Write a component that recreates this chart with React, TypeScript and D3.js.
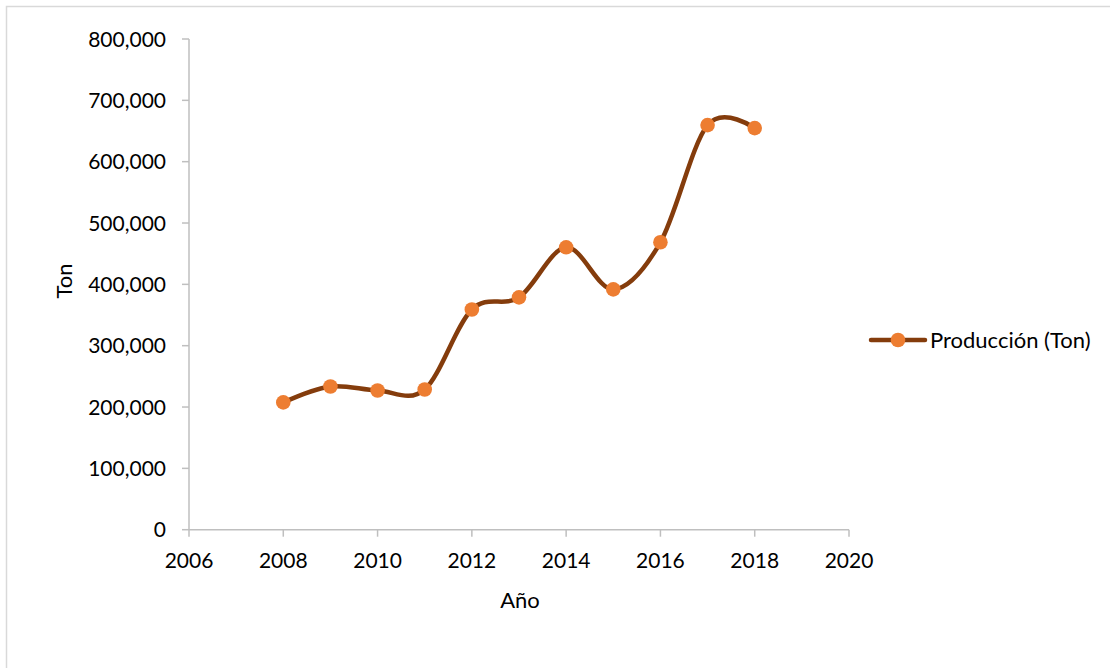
import React from "react";
import * as d3 from "d3";

// Data
const years = [2008, 2009, 2010, 2011, 2012, 2013, 2014, 2015, 2016, 2017, 2018];
const production = [207500, 233500, 227000, 228600, 359000, 378800, 460400, 391800, 468600, 659600, 654700];
const xTicks = [2006, 2008, 2010, 2012, 2014, 2016, 2018, 2020];
const yTicks = [0, 100000, 200000, 300000, 400000, 500000, 600000, 700000, 800000];
const seriesName = "Producción (Ton)";
const xTitle = "Año";
const yTitle = "Ton";

const W = 1110;
const H = 668;
const FONT = "Lato, 'Open Sans', sans-serif";
const LINE = "#843C0C";
const MARK = "#ED7D31";
const AXIS = "#BFBFBF";

export default function App() {
  const x = d3.scaleLinear().domain([2006, 2020]).range([189, 849]);
  const y = d3.scaleLinear().domain([0, 800000]).range([529.7, 39]);
  const fmt = d3.format(",");
  const pts = production.map((v, i) => ({ x: years[i], y: v }));
  const line = d3
    .line<{ x: number; y: number }>()
    .x((d) => x(d.x))
    .y((d) => y(d.y))
    .curve(d3.curveCatmullRom.alpha(0));
  return (
    <svg
      width={W}
      height={H}
      style={{ position: "absolute", left: 0, top: 0, background: "#fff" }}
      fontFamily={FONT}
    >
      <rect x={6.5} y={6.5} width={W + 10} height={H + 10} fill="#fff" stroke="#D9D9D9" strokeWidth={1.5} />
      {/* y axis */}
      <line x1={x(2006)} x2={x(2006)} y1={y(800000)} y2={y(0)} stroke={AXIS} strokeWidth={1.5} />
      {yTicks.map((t) => (
        <g key={t}>
          <line x1={x(2006) - 7} x2={x(2006)} y1={y(t)} y2={y(t)} stroke={AXIS} strokeWidth={1.5} />
          <text x={x(2006) - 23} y={y(t)} dy="0.36em" textAnchor="end" fontSize={21} fill="#000">
            {fmt(t)}
          </text>
        </g>
      ))}
      {/* x axis */}
      <line x1={x(2006)} x2={x(2020)} y1={y(0)} y2={y(0)} stroke={AXIS} strokeWidth={1.5} />
      {xTicks.map((t) => (
        <g key={t}>
          <line x1={x(t)} x2={x(t)} y1={y(0)} y2={y(0) + 7} stroke={AXIS} strokeWidth={1.5} />
          <text x={x(t)} y={y(0) + 38} textAnchor="middle" fontSize={21} fill="#000">
            {t}
          </text>
        </g>
      ))}
      <text x={520} y={608} textAnchor="middle" fontSize={22} fill="#000">
        {xTitle}
      </text>
      <text transform="translate(72,281) rotate(-90)" textAnchor="middle" fontSize={22} fill="#000">
        {yTitle}
      </text>
      {/* series */}
      <path d={line(pts) || ""} fill="none" stroke={LINE} strokeWidth={4.5} strokeLinejoin="round" strokeLinecap="round" />
      {pts.map((p) => (
        <circle key={p.x} cx={x(p.x)} cy={y(p.y)} r={7.3} fill={MARK} />
      ))}
      {/* legend */}
      <line x1={871} x2={925} y1={340} y2={340} stroke={LINE} strokeWidth={4.5} strokeLinecap="round" />
      <circle cx={898} cy={340} r={7.3} fill={MARK} />
      <text x={930} y={340} dy="0.36em" fontSize={22} fill="#000">
        {seriesName}
      </text>
    </svg>
  );
}
